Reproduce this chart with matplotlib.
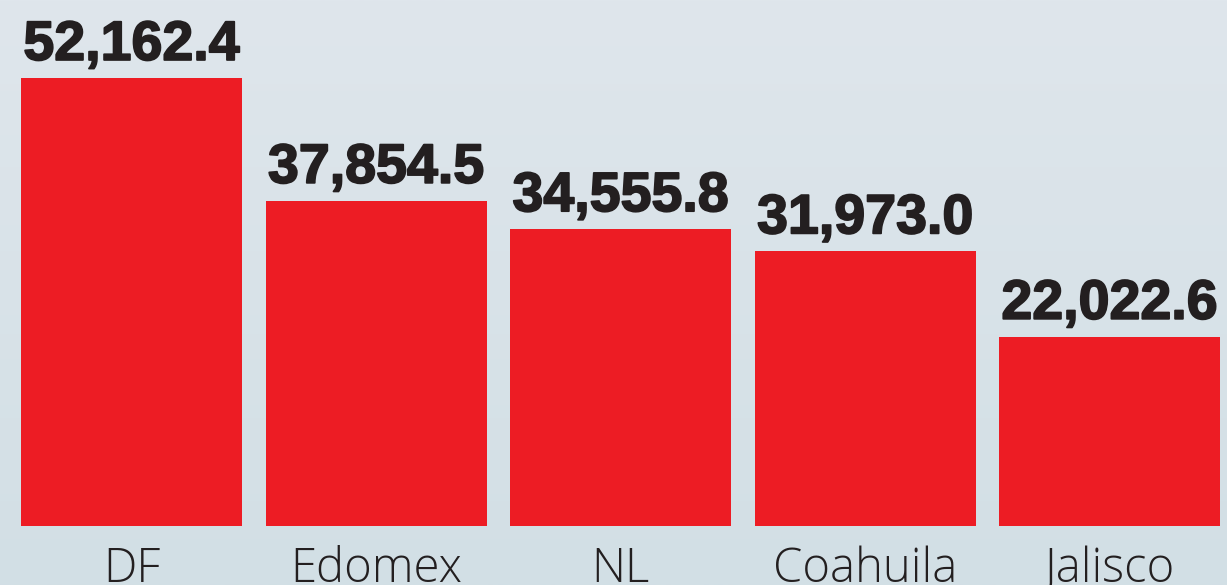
import matplotlib
matplotlib.use("Agg")
import matplotlib.pyplot as plt
import matplotlib.patheffects as pe
import numpy as np
from matplotlib.colors import LinearSegmentedColormap

# data
states = ["DF", "Edomex", "NL", "Coahuila", "Jalisco"]
values = [52162.4, 37854.5, 34555.8, 31973.0, 22022.6]
value_labels = ["52,162.4", "37,854.5", "34,555.8", "31,973.0", "22,022.6"]

W, H = 12.27, 5.85
fig = plt.figure(figsize=(W, H), dpi=100)

# background gradient
bg = fig.add_axes([0, 0, 1, 1], zorder=0)
cmap = LinearSegmentedColormap.from_list("bg", ["#dfe6ec", "#d2dfe5"])
bg.imshow(np.linspace(0, 1, 256).reshape(-1, 1), aspect="auto", cmap=cmap,
          extent=[0, 1, 0, 1], origin="upper")
bg.axis("off")

ax = fig.add_axes([0, 0, 1, 1], zorder=1)
ax.patch.set_alpha(0)

px_per_unit = 448 / 52162.4
pitch = 244.5
ax.set_xlim(-131.5 / pitch, (1227 - 131.5) / pitch)
ybot = -59 / px_per_unit
ax.set_ylim(ybot, ybot + 585 / px_per_unit)

x = np.arange(len(states))
ax.bar(x, values, width=221 / pitch, color="#ed1c24", zorder=2)

# heavier look for the value labels
heavy = [pe.withStroke(linewidth=1.3, foreground="#231f20")]
for xi, v, lab in zip(x, values, value_labels):
    ax.annotate(lab, (xi, v), xytext=(0, 13), textcoords="offset points",
                ha="center", va="baseline", fontsize=40, fontweight="bold",
                color="#231f20", family=["Liberation Sans", "DejaVu Sans"],
                path_effects=heavy)

for xi, s in zip(x, states):
    ax.annotate(s, (xi, 0), xycoords=("data", "figure pixels"),
                xytext=(0, 3), textcoords="offset pixels",
                ha="center", va="baseline", fontsize=34, fontweight="light",
                color="#231f20", family=["Open Sans", "DejaVu Sans"])

ax.axis("off")
fig.savefig("out.png", dpi=100)
